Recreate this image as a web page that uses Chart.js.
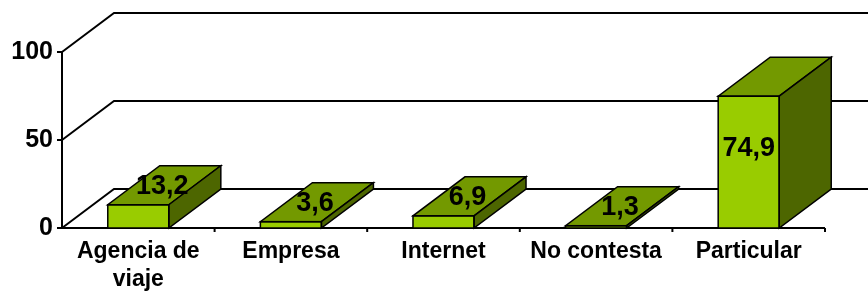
<!DOCTYPE html>
<html>
<head>
<meta charset="utf-8">
<script src="https://cdn.jsdelivr.net/npm/chart.js@4/dist/chart.umd.min.js"></script>
<style>
html,body{margin:0;padding:0;background:#fff;}
#wrap{width:868px;height:293px;}
</style>
</head>
<body>
<div id="wrap"><canvas id="c" width="868" height="293"></canvas></div>
<script>
const categories = [["Agencia de", "viaje"], "Empresa", "Internet", "No contesta", "Particular"];
const values = [13.2, 3.6, 6.9, 1.3, 74.9];
const valueLabels = ["13,2", "3,6", "6,9", "1,3", "74,9"];
const yTicks = [0, 50, 100];

const FONT = "'Liberation Sans', Arial, sans-serif";
const DX = 52, DY = -39;
const FRONT = '#99CC00', TOP = '#739900', SIDE = '#4D6600';

const threeD = {
  id: 'threeD',
  beforeDatasetsDraw(chart) {
    const ctx = chart.ctx;
    const y = chart.scales.y, x = chart.scales.x;
    const L = x.left, R = x.right;
    ctx.save();
    ctx.strokeStyle = '#000';
    ctx.lineWidth = 2;
    ctx.lineCap = 'butt';
    yTicks.forEach(v => {
      const py = y.getPixelForValue(v);
      ctx.beginPath();
      ctx.moveTo(L, py);
      ctx.lineTo(L + DX, py + DY);
      ctx.lineTo(chart.width + 5, py + DY);
      ctx.stroke();
      ctx.beginPath();
      ctx.moveTo(L - 5, py);
      ctx.lineTo(L, py);
      ctx.stroke();
    });
    ctx.beginPath();
    ctx.moveTo(L, y.getPixelForValue(yTicks[yTicks.length - 1]));
    ctx.lineTo(L, y.getPixelForValue(0));
    ctx.stroke();
    const p0 = y.getPixelForValue(0);
    ctx.beginPath();
    ctx.moveTo(L, p0);
    ctx.lineTo(R, p0);
    ctx.stroke();
    const n = categories.length;
    for (let i = 1; i <= n; i++) {
      const px = L + (R - L) * i / n;
      ctx.beginPath();
      ctx.moveTo(px, p0);
      ctx.lineTo(px, p0 + 4);
      ctx.stroke();
    }
    ctx.restore();
  },
  afterDatasetsDraw(chart) {
    const ctx = chart.ctx;
    const meta = chart.getDatasetMeta(0);
    ctx.save();
    ctx.strokeStyle = '#000';
    ctx.lineWidth = 1.5;
    ctx.lineJoin = 'miter';
    meta.data.forEach((bar, i) => {
      const p = bar.getProps(['x', 'y', 'base', 'width'], true);
      const l = p.x - p.width / 2, r = p.x + p.width / 2;
      const top = p.y, base = p.base;
      ctx.beginPath();
      ctx.moveTo(l, top);
      ctx.lineTo(r, top);
      ctx.lineTo(r + DX, top + DY);
      ctx.lineTo(l + DX, top + DY);
      ctx.closePath();
      ctx.fillStyle = TOP;
      ctx.fill();
      ctx.stroke();
      ctx.beginPath();
      ctx.moveTo(r, top);
      ctx.lineTo(r + DX, top + DY);
      ctx.lineTo(r + DX, base + DY);
      ctx.lineTo(r, base);
      ctx.closePath();
      ctx.fillStyle = SIDE;
      ctx.fill();
      ctx.stroke();
      ctx.strokeRect(l, top, r - l, base - top);
    });
    ctx.fillStyle = '#000';
    ctx.font = 'bold 27px ' + FONT;
    ctx.textAlign = 'center';
    ctx.textBaseline = 'middle';
    meta.data.forEach((bar, i) => {
      const p = bar.getProps(['x', 'y', 'base', 'width'], true);
      let lx, ly;
      if (p.base - p.y > 60) {
        lx = p.x;
        ly = p.y + (p.base - p.y) * 0.39;
      } else {
        lx = p.x + DX / 2 - 2;
        ly = p.y + DY / 2;
      }
      ctx.fillText(valueLabels[i], lx, ly + 1);
    });
    ctx.restore();
  }
};

new Chart(document.getElementById('c'), {
  type: 'bar',
  data: {
    labels: categories,
    datasets: [{
      data: values,
      backgroundColor: FRONT,
      borderWidth: 0,
      barPercentage: 0.4,
      categoryPercentage: 1.0
    }]
  },
  options: {
    responsive: false,
    animation: false,
    events: [],
    layout: { padding: { top: 52, right: 43, left: 0, bottom: 0 } },
    plugins: { legend: { display: false }, tooltip: { enabled: false } },
    scales: {
      x: {
        grid: { display: false, drawTicks: false },
        border: { display: false },
        ticks: {
          color: '#000',
          font: { family: FONT, size: 23, weight: 'bold', lineHeight: 1.2 },
          padding: 10,
          maxRotation: 0,
          autoSkip: false
        },
        afterFit(s) { s.height = 65; }
      },
      y: {
        min: 0,
        max: 100,
        grid: { display: false, drawTicks: false },
        border: { display: false },
        ticks: {
          stepSize: 50,
          color: '#000',
          font: { family: FONT, size: 25, weight: 'bold' },
          padding: 9
        },
        afterFit(s) { s.width = 62; }
      }
    }
  },
  plugins: [threeD]
});
</script>
</body>
</html>
